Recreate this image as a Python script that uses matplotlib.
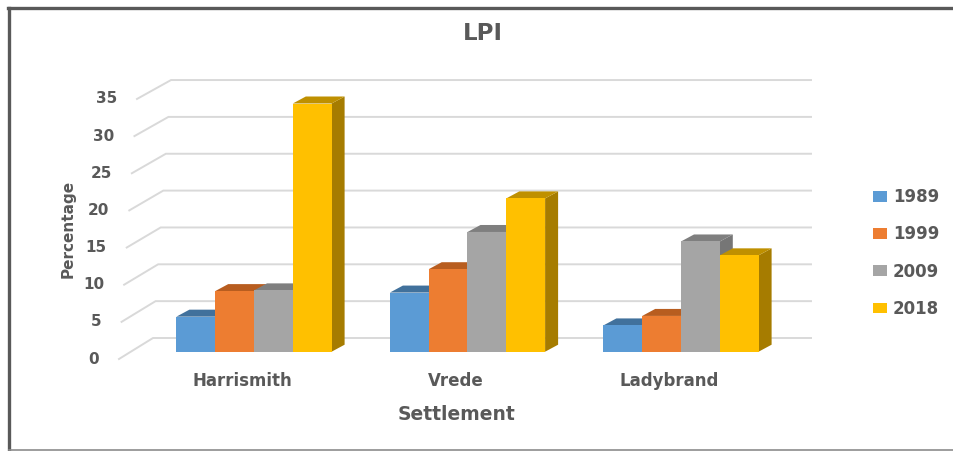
import numpy as np
import matplotlib
matplotlib.use('Agg')
import matplotlib.pyplot as plt
from matplotlib.patches import Polygon, Patch
from matplotlib.lines import Line2D

settlements = ['Harrismith', 'Vrede', 'Ladybrand']
years = ['1989', '1999', '2009', '2018']
lpi_1989 = [4.8, 8.1, 3.6]
lpi_1999 = [8.3, 11.3, 4.9]
lpi_2009 = [8.4, 16.4, 15.1]
lpi_2018 = [34.0, 21.0, 13.2]
yticks = [0, 5, 10, 15, 20, 25, 30, 35]

series = [lpi_1989, lpi_1999, lpi_2009, lpi_2018]
front_cols = ['#5B9BD5', '#ED7D31', '#A5A5A5', '#FFC000']
top_cols = ['#41719C', '#B85D1F', '#7F7F7F', '#BF9000']
side_cols = ['#3A6A96', '#A9561C', '#767676', '#A67C00']
txt_col = '#595959'
grid_col = '#D9D9D9'

plt.rcParams['font.family'] = ['DejaVu Sans']

W, H = 954, 451
fig = plt.figure(figsize=(W / 100, H / 100), dpi=100)

# pixel geometry of the fake 3d box (px per unit along x / along values)
PX, PV = 213.5, 7.3
x0_px, v0_px = 254, 351.7
L, R, T, B = 90, 830, 60, 380
ax = fig.add_axes([L / W, 1 - B / H, (R - L) / W, (B - T) / H])
ax.set_xlim((L - x0_px) / PX, (R - x0_px) / PX)
ax.set_ylim((v0_px - B) / PV, (v0_px - T) / PV)
ax.axis('off')

# wall / gridlines (back wall + diagonal to the front)
slant = 18 / PX / 35
for v in yticks:
    fx = (119 - x0_px) / PX + slant * v
    fy = (v0_px - 359) / PV + v * 7.43 / PV
    bx = (153 - x0_px) / PX + slant * v
    by = (v0_px - 338) / PV + v * 7.37 / PV
    ex = (811 - x0_px) / PX
    ax.plot([fx, bx, ex], [fy, by, by], color=grid_col, lw=1.4, zorder=1,
            solid_joinstyle='miter')
    ax.text(fx - 20 / PX, fy, str(v), ha='right', va='center', fontsize=11,
            fontweight='bold', color=txt_col)

# 3d-ish bars
bw = 38.8 / PX
bdx, bdv = 13 / PX, 7 / PV
for i in range(len(settlements)):
    left0 = i - 2 * bw
    for j, s in enumerate(series):
        h = s[i]
        xl = left0 + j * bw
        xr = xl + bw
        z = 2 + i * 10 + j * 2
        side = Polygon([(xr, 0), (xr + bdx, bdv), (xr + bdx, h + bdv), (xr, h)],
                       closed=True, fc=side_cols[j], ec='none', zorder=z)
        top = Polygon([(xl, h), (xr, h), (xr + bdx, h + bdv), (xl + bdx, h + bdv)],
                      closed=True, fc=top_cols[j], ec='none', zorder=z)
        ax.add_patch(side)
        ax.add_patch(top)
        ax.bar(xl, h, width=bw, align='edge', color=front_cols[j], zorder=z + 1)

for i, name in enumerate(settlements):
    ax.text(i - 12 / PX, (v0_px - 381) / PV, name, ha='center', va='center',
            fontsize=12, fontweight='bold', color=txt_col)

fig.text(457 / W, 1 - 414 / H, 'Settlement', ha='center', va='center',
         fontsize=13.5, fontweight='bold', color=txt_col)
fig.text(68 / W, 1 - 229 / H, 'Percentage', ha='center', va='center',
         rotation=90, fontsize=11, fontweight='bold', color=txt_col)
fig.text(483 / W, 1 - 33 / H, 'LPI', ha='center', va='center',
         fontsize=16.5, fontweight='bold', color=txt_col)

handles = [Patch(facecolor=c, edgecolor='none') for c in front_cols]
fig.legend(handles, years, loc='center left',
           bbox_to_anchor=(873 / W, 1 - 253 / H), frameon=False,
           prop={'size': 12, 'weight': 'bold'}, labelcolor=txt_col,
           handlelength=0.85, handleheight=0.6, handletextpad=0.35,
           labelspacing=1.15, borderpad=0, borderaxespad=0)

# outer frame
fig.add_artist(Line2D([9.5 / W, 9.5 / W], [1 - 8 / H, 1 - 449.5 / H],
                      color='#595959', lw=2.4, transform=fig.transFigure))
fig.add_artist(Line2D([8.5 / W, 1], [1 - 8 / H, 1 - 8 / H],
                      color='#595959', lw=2.4, transform=fig.transFigure))
fig.add_artist(Line2D([9 / W, 1], [1 - 449.5 / H, 1 - 449.5 / H],
                      color='#8C8C8C', lw=1.2, transform=fig.transFigure))

fig.savefig('out.png', dpi=100)
